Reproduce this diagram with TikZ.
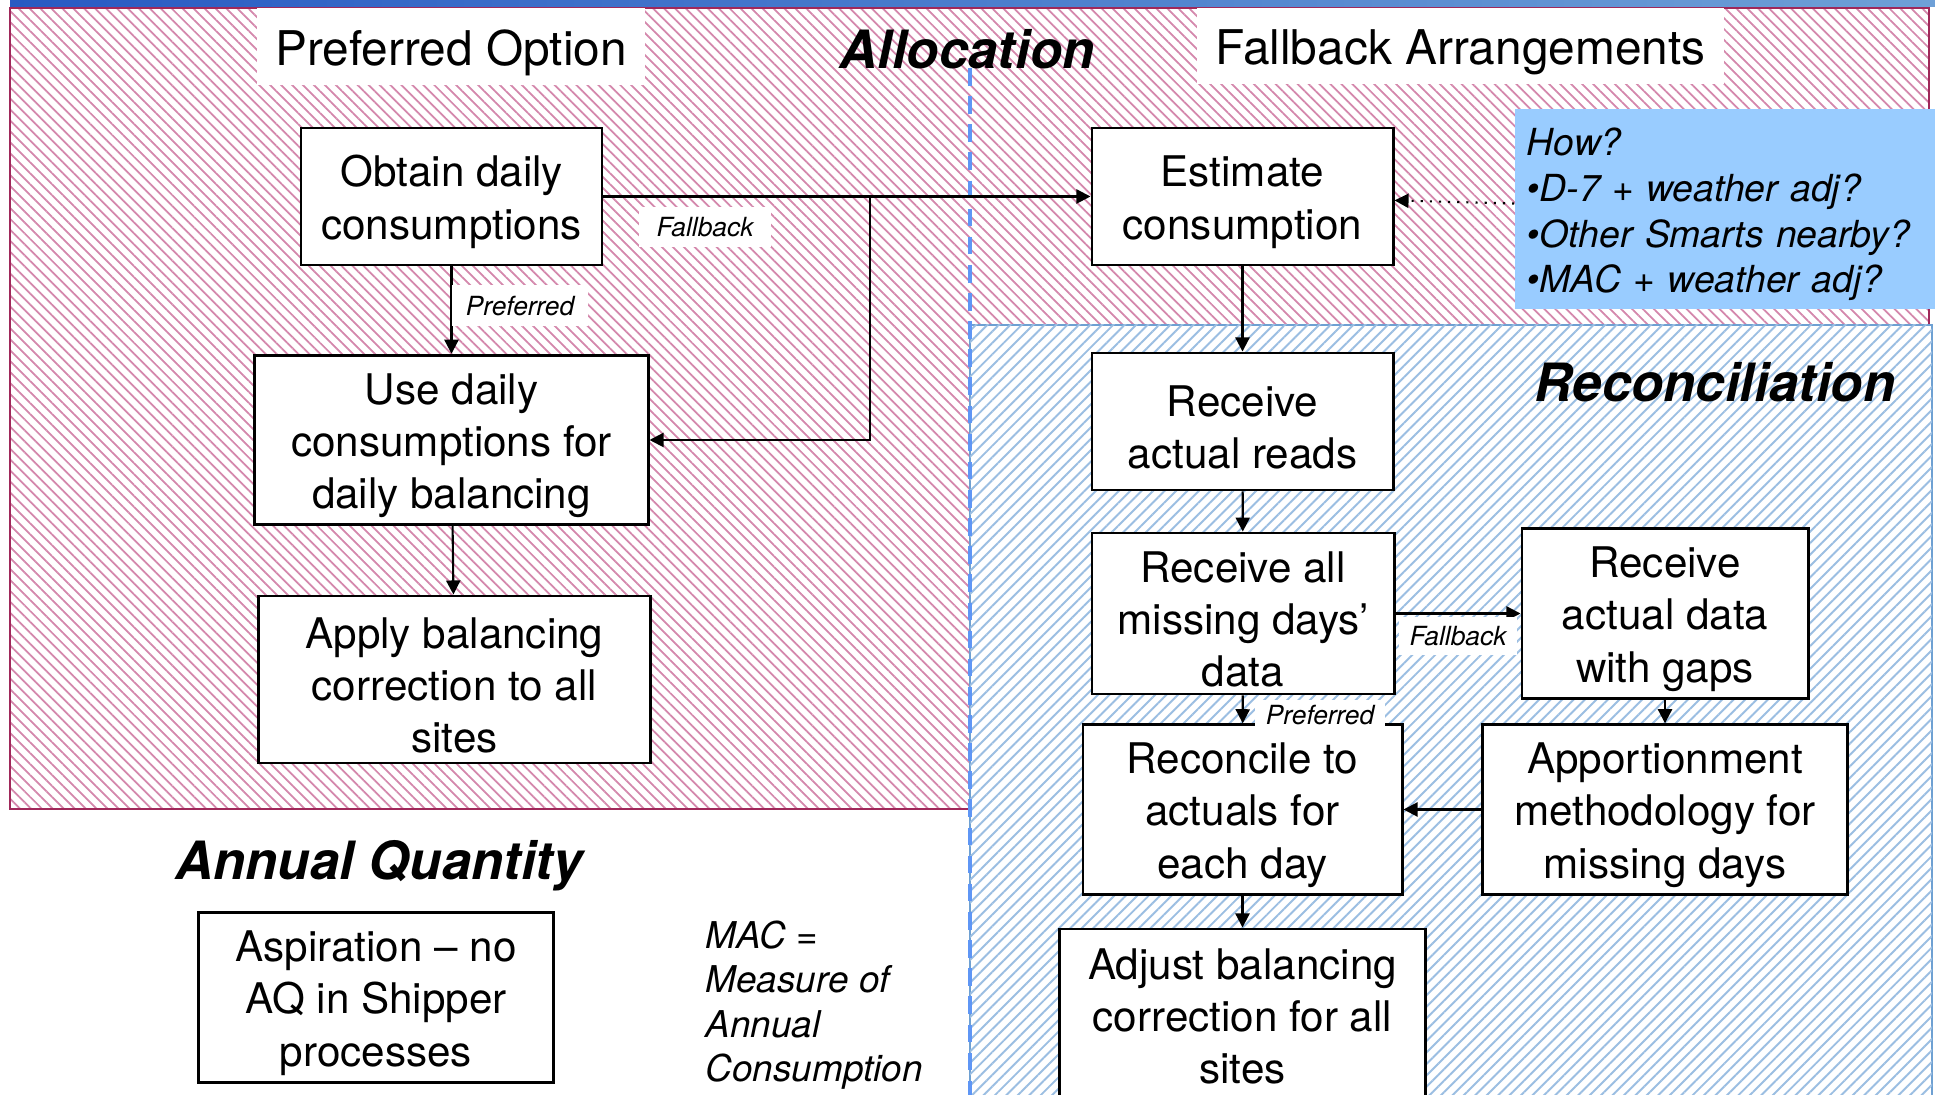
\documentclass[tikz,border=0pt]{standalone}
\usepackage{fontspec}
\setmainfont{TeX Gyre Heros}
\usepackage{tikz}
\usetikzlibrary{positioning,arrows.meta,patterns.meta}
\definecolor{pinkhatch}{RGB}{212,135,172}
\definecolor{pinkedge}{RGB}{160,40,90}
\definecolor{bluehatch}{RGB}{155,190,226}
\definecolor{blueedge}{RGB}{110,160,210}
\definecolor{howblue}{RGB}{153,204,255}
\definecolor{divider}{RGB}{95,150,245}
\definecolor{topbarL}{RGB}{40,90,195}
\definecolor{topbarR}{RGB}{110,160,215}
% lifts the first line of a box a little
\newcommand{\boxstrut}{\rule{0pt}{12pt}}

\begin{document}
\begin{tikzpicture}[x=0.01cm,y=-0.01cm,
    procbox/.style={draw,line width=0.8pt,fill=white,align=center,inner sep=2pt,font=\fontsize{12}{14.8}\selectfont},
    flowlabel/.style={fill=white,inner sep=0pt,font=\fontsize{7.5}{9}\selectfont\itshape},
    headlabel/.style={fill=white,inner sep=0pt,font=\fontsize{13.6}{16}\selectfont,execute at begin node={\rule{0pt}{1em}}},
    region/.style={font=\fontsize{15}{18}\selectfont\bfseries\itshape},
    howbox/.style={fill=howblue,inner xsep=0.12cm,inner ysep=0pt,align=left,text width=3.96cm,text height=11pt,minimum height=2cm,font=\fontsize{10.6}{13}\selectfont\itshape},
    flow/.style={line width=0.6pt,-{Triangle[length=4pt,width=4pt]}}]
  \useasboundingbox (0,0) rectangle (1935,1095);
  \clip (0,0) rectangle (1935,1095);
  % background areas
  \fill[white] (0,0) rectangle (1935,1095);
  \draw[pinkedge,line width=0.5pt,pattern={Lines[angle=-45,distance=2.2pt,line width=0.5pt]},pattern color=pinkhatch] (10,8) rectangle (1929,809);
  \fill[left color=topbarL,right color=topbarR] (10,1) rectangle (1935,7);
  \draw[blueedge,line width=0.6pt,fill=white] (970,325) rectangle (1932,1100);
  \fill[pattern={Lines[angle=45,distance=2.3pt,line width=0.55pt]},pattern color=bluehatch] (970,325) rectangle (1932,1100);
  \draw[divider,line width=1.4pt,dash pattern=on 5pt off 3pt] (970,68) -- (970,1095);

  % headings
  \node[headlabel,minimum width=3.88cm,minimum height=0.77cm](prefhead) at (451,46.5){Preferred Option};
  \node[headlabel,minimum width=5.27cm,minimum height=0.76cm](fallhead) at (1460.5,46){Fallback Arrangements};
  \node[region](alloc) at (967,49){Allocation};
  \node[region](recon) at (1715,382){Reconciliation};
  \node[region](aq) at (379,866){Annual Quantity};

  % allocation, preferred
  \node[procbox,minimum width=3.01cm,minimum height=1.37cm](obtain) at (451.5,196.5){\boxstrut Obtain daily\\consumptions};
  \node[procbox,minimum width=3.93cm,minimum height=1.66cm](usedaily) at (451.5,440){\boxstrut Use daily\\consumptions for\\daily balancing};
  \node[procbox,minimum width=3.91cm,minimum height=1.67cm](apply) at (454.5,679.5){\boxstrut Apply balancing\\correction to all\\sites};

  % allocation, fallback
  \node[procbox,minimum width=3.01cm,minimum height=1.37cm](estimate) at (1242.5,196.5){\boxstrut Estimate\\consumption};
  \node[howbox](how) at (1725,209){How?\\\textbullet D-7 + weather adj?\\\textbullet Other Smarts nearby?\\\textbullet MAC + weather adj?};

  % reconciliation
  \node[procbox,minimum width=3.01cm,minimum height=1.37cm](recvreads) at (1242.5,421.5){\boxstrut Receive\\actual reads};
  \node[procbox,minimum width=3.02cm,minimum height=1.53cm](recvall) at (1243,613.5){\boxstrut Receive all\\missing days'\\data};
  \node[procbox,minimum width=2.86cm,minimum height=1.53cm](recvgaps) at (1665,613.5){\boxstrut Receive\\actual data\\with gaps};
  \node[procbox,minimum width=3.19cm,minimum height=1.53cm](reconcile) at (1242.5,809.5){\boxstrut Reconcile to\\actuals for\\each day};
  \node[procbox,minimum width=3.64cm,minimum height=1.53cm](apportion) at (1665,809.5){\boxstrut Apportionment\\methodology for\\missing days};
  \node[procbox,minimum width=3.65cm,minimum height=1.74cm](adjust) at (1242.5,1016){Adjust balancing\\correction for all\\sites};

  % annual quantity
  \node[procbox,minimum width=3.54cm,minimum height=1.67cm](aspire) at (376,997.5){\boxstrut Aspiration -- no\\AQ in Shipper\\processes};
  \node[anchor=west,align=left,inner sep=0pt,font=\fontsize{10.5}{12.6}\selectfont\itshape](macnote) at (705,1005){MAC =\\Measure of\\Annual\\Consumption};

  % connectors
  \coordinate (fbsplit) at (870,196.5);
  \draw[flow] (obtain) -- (estimate);
  \draw[flow] (fbsplit) |- (usedaily);
  \draw[flow] (obtain) -- (usedaily);
  \draw[flow] (usedaily) -- (apply);
  \draw[flow,dotted] (how) -- (estimate);
  \draw[flow] (estimate) -- (recvreads);
  \draw[flow] (recvreads) -- (recvall);
  \draw[flow] (recvall) -- (recvgaps);
  \draw[flow] (recvall) -- (reconcile);
  \draw[flow] (recvgaps) -- (apportion);
  \draw[flow] (apportion) -- (reconcile);
  \draw[flow] (reconcile) -- (adjust);

  \node[flowlabel,minimum width=1.32cm,minimum height=0.4cm](fallbacka) at (705,227){Fallback};
  \node[flowlabel,minimum width=1.36cm,minimum height=0.41cm](preferreda) at (520,306){Preferred};
  \node[flowlabel,minimum width=1.17cm,minimum height=0.37cm](fallbackb) at (1458,636){Fallback};
  \node[flowlabel,minimum width=1.30cm,minimum height=0.30cm](preferredb) at (1320,715){Preferred};
\end{tikzpicture}
\end{document}
